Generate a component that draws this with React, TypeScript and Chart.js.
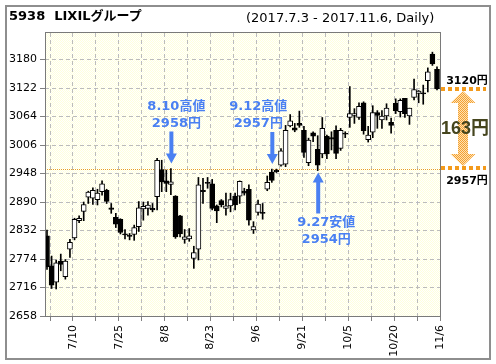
import React, { useEffect, useRef } from 'react';
import { Chart, registerables } from 'chart.js';

Chart.register(...registerables);

const FONT = "'DejaVu Sans', 'Noto Sans CJK JP', sans-serif";
const BIG_FONT = "'Liberation Sans', 'Noto Sans CJK JP', sans-serif";

// trading days (x categories)
const dates = [
  '7/3', '7/4', '7/5', '7/6', '7/7', '7/10', '7/11', '7/12', '7/13', '7/14',
  '7/18', '7/19', '7/20', '7/21', '7/24', '7/25', '7/26', '7/27', '7/28', '7/31',
  '8/1', '8/2', '8/3', '8/4', '8/7', '8/8', '8/9', '8/10', '8/14', '8/15',
  '8/16', '8/17', '8/18', '8/21', '8/22', '8/23', '8/24', '8/25', '8/28', '8/29',
  '8/30', '8/31', '9/1', '9/4', '9/5', '9/6', '9/7', '9/8', '9/11', '9/12',
  '9/13', '9/14', '9/15', '9/19', '9/20', '9/21', '9/22', '9/25', '9/26', '9/27',
  '9/28', '9/29', '10/2', '10/3', '10/4', '10/5', '10/6', '10/10', '10/11', '10/12',
  '10/13', '10/16', '10/17', '10/18', '10/19', '10/20', '10/23', '10/24', '10/25', '10/26',
  '10/27', '10/30', '10/31', '11/1', '11/2', '11/6',
];

const opens = [
  2821, 2760, 2727, 2770, 2738, 2794, 2817, 2852, 2871, 2900,
  2898, 2895, 2911, 2914, 2878, 2859, 2855, 2825, 2822, 2824,
  2840, 2876, 2877, 2877, 2901, 2956, 2933, 2926, 2902, 2862,
  2814, 2815, 2775, 2794, 2914, 2930, 2927, 2882, 2893, 2877,
  2882, 2902, 2902, 2912, 2916, 2833, 2869, 2869, 2916, 2951,
  2955, 2965, 2967, 3045, 3041, 3050, 3036, 2970, 3031, 2997,
  2988, 3024, 3021, 3036, 2999, 3030, 3062, 3066, 3062, 3092,
  3017, 3032, 3072, 3057, 3065, 3052, 3091, 3074, 3101, 3065,
  3103, 3111, 3112, 3137, 3191, 3160,
];

const highs = [
  2833, 2780, 2772, 2784, 2773, 2814, 2857, 2862, 2890, 2912,
  2919, 2916, 2933, 2916, 2887, 2867, 2856, 2834, 2826, 2843,
  2891, 2890, 2891, 2887, 2979, 2975, 2955, 2958, 2903, 2863,
  2834, 2836, 2800, 2940, 2938, 2940, 2936, 2884, 2895, 2908,
  2908, 2908, 2933, 2918, 2925, 2850, 2894, 2887, 2943, 2957,
  2957, 2999, 3046, 3068, 3050, 3075, 3044, 3020, 3033, 3025,
  3062, 3026, 3033, 3045, 3040, 3033, 3125, 3080, 3092, 3094,
  3044, 3086, 3076, 3076, 3090, 3061, 3100, 3100, 3101, 3081,
  3140, 3117, 3128, 3163, 3195, 3165,
];

const lows = [
  2753, 2714, 2713, 2750, 2733, 2777, 2813, 2848, 2852, 2887,
  2885, 2884, 2904, 2887, 2867, 2838, 2825, 2815, 2813, 2812,
  2830, 2853, 2863, 2870, 2874, 2911, 2911, 2905, 2816, 2819,
  2806, 2810, 2755, 2772, 2887, 2918, 2874, 2848, 2880, 2863,
  2870, 2874, 2887, 2904, 2843, 2826, 2863, 2855, 2913, 2930,
  2950, 2963, 2962, 3043, 3033, 3042, 2981, 2964, 3013, 2954,
  2980, 2978, 2996, 2978, 2995, 3021, 3042, 3050, 3058, 3028,
  3012, 3021, 3040, 3040, 3057, 3030, 3070, 3063, 3062, 3048,
  3098, 3092, 3089, 3114, 3168, 3118,
];

const closes = [
  2758, 2721, 2766, 2763, 2770, 2808, 2855, 2857, 2885, 2910,
  2914, 2908, 2927, 2891, 2875, 2845, 2828, 2823, 2820, 2838,
  2878, 2881, 2884, 2874, 2975, 2931, 2928, 2931, 2819, 2825,
  2819, 2821, 2787, 2925, 2911, 2928, 2877, 2872, 2884, 2882,
  2895, 2884, 2932, 2908, 2853, 2840, 2886, 2867, 2930, 2934,
  2952, 2994, 3036, 3055, 3036, 3046, 2991, 3016, 3024, 2965,
  3040, 2988, 3018, 2989, 3036, 3028, 3070, 3070, 3085, 3035,
  3026, 3072, 3066, 3065, 3081, 3046, 3076, 3097, 3070, 3081,
  3119, 3116, 3110, 3155, 3171, 3120,
];

const yTicks = [2658, 2716, 2774, 2832, 2890, 2948, 3006, 3064, 3122, 3180];
const yMin = 2658;
const yMax = 3234;

// vertical grid every 5 trading days, labels every 10
const gridIndexes = [0, 5, 10, 15, 20, 25, 30, 35, 40, 45, 50, 55, 60, 65, 70, 75, 80, 85];
const labelledIndexes = [5, 15, 25, 35, 45, 55, 65, 75, 85];
const gridShift = 0.654;
const xMin = -0.436;
const xMax = 85.654;

// annotations
const pointNotes = [
  { title: '8.10高値', price: '2958円', index: 27, value: 2958, dir: 'down', dx: 5 },
  { title: '9.12高値', price: '2957円', index: 49, value: 2957, dir: 'down', dx: -14 },
  { title: '9.27安値', price: '2954円', index: 59, value: 2954, dir: 'up', dx: 8 },
];
const refLevel = 2957;
const rangeTop = 3120;
const rangeBottom = 2957;
const rangeTopLabel = '3120円';
const rangeBottomLabel = '2957円';
const rangeDiffLabel = '163円';

const BLUE = '#4a80f2';
const ORANGE = '#f39a1c';

function arrow(ctx: CanvasRenderingContext2D, x: number, yTail: number, yTip: number, shaftW: number, headW: number, headL: number) {
  const dir = yTip > yTail ? 1 : -1;
  const yBase = yTip - dir * headL;
  ctx.beginPath();
  ctx.moveTo(x - shaftW / 2, yTail);
  ctx.lineTo(x + shaftW / 2, yTail);
  ctx.lineTo(x + shaftW / 2, yBase);
  ctx.lineTo(x + headW / 2, yBase);
  ctx.lineTo(x, yTip);
  ctx.lineTo(x - headW / 2, yBase);
  ctx.lineTo(x - shaftW / 2, yBase);
  ctx.closePath();
  ctx.fill();
}

function checker(ctx: CanvasRenderingContext2D, a: string, b: string) {
  const c = document.createElement('canvas');
  c.width = 2;
  c.height = 2;
  const g = c.getContext('2d')!;
  g.fillStyle = b;
  g.fillRect(0, 0, 2, 2);
  g.fillStyle = a;
  g.fillRect(0, 0, 1, 1);
  g.fillRect(1, 1, 1, 1);
  return ctx.createPattern(c, 'repeat')!;
}

const decorPlugin = {
  id: 'decor',
  beforeDraw(chart: any) {
    const { ctx, chartArea: a } = chart;
    ctx.save();
    ctx.fillStyle = checker(ctx, '#ffffdc', '#ffffff');
    ctx.fillRect(a.left, a.top, a.right - a.left, a.bottom - a.top);
    ctx.restore();
  },
  beforeDatasetsDraw(chart: any) {
    const { ctx, chartArea: a, scales } = chart;
    const y = Math.round(scales.y.getPixelForValue(refLevel)) + 0.5;
    ctx.save();
    ctx.strokeStyle = '#e8a020';
    ctx.lineWidth = 1;
    ctx.setLineDash([1, 1]);
    ctx.beginPath();
    ctx.moveTo(a.left, y);
    ctx.lineTo(a.right, y);
    ctx.stroke();
    ctx.restore();
  },
  afterDraw(chart: any) {
    const { ctx, chartArea: a, scales } = chart;
    const xs = scales.x;
    const ys = scales.y;
    ctx.save();
    // plot frame
    ctx.strokeStyle = '#7a7a7a';
    ctx.lineWidth = 1;
    ctx.setLineDash([]);
    ctx.strokeRect(a.left + 0.5, a.top - 0.5, a.right - a.left, a.bottom - a.top + 1);

    // blue notes
    ctx.fillStyle = BLUE;
    ctx.textAlign = 'center';
    ctx.textBaseline = 'middle';
    ctx.font = `bold 13px ${FONT}`;
    for (const n of pointNotes) {
      const x = xs.getPixelForValue(n.index) + 0.5;
      const yv = ys.getPixelForValue(n.value);
      if (n.dir === 'down') {
        const tip = yv - 5;
        arrow(ctx, x, tip - 32, tip, 4, 11, 10);
        ctx.fillText(n.title, x + n.dx, tip - 57);
        ctx.fillText(n.price, x + n.dx, tip - 40);
      } else {
        const tip = yv + 2;
        arrow(ctx, x, tip + 41, tip, 4, 11, 10);
        ctx.fillText(n.title, x + n.dx, tip + 50);
        ctx.fillText(n.price, x + n.dx, tip + 67);
      }
    }

    // right side range
    const yTop = ys.getPixelForValue(rangeTop);
    const yBot = ys.getPixelForValue(rangeBottom);
    ctx.strokeStyle = ORANGE;
    ctx.lineWidth = 4;
    ctx.setLineDash([4, 3]);
    ctx.beginPath();
    ctx.moveTo(a.right + 1, Math.round(yTop));
    ctx.lineTo(a.right + 46, Math.round(yTop));
    ctx.moveTo(a.right + 1, Math.round(yBot) - 1);
    ctx.lineTo(a.right + 46, Math.round(yBot) - 1);
    ctx.stroke();
    ctx.setLineDash([]);

    const cx = a.right + 23;
    const t1 = yTop + 2;
    const t2 = yBot - 3;
    ctx.fillStyle = checker(ctx, '#f5a030', '#fde2b4');
    ctx.beginPath();
    ctx.moveTo(cx, t1);
    ctx.lineTo(cx + 12.5, t1 + 12);
    ctx.lineTo(cx + 5, t1 + 12);
    ctx.lineTo(cx + 5, t2 - 12);
    ctx.lineTo(cx + 12.5, t2 - 12);
    ctx.lineTo(cx, t2);
    ctx.lineTo(cx - 12.5, t2 - 12);
    ctx.lineTo(cx - 5, t2 - 12);
    ctx.lineTo(cx - 5, t1 + 12);
    ctx.lineTo(cx - 12.5, t1 + 12);
    ctx.closePath();
    ctx.fill();

    ctx.fillStyle = '#000';
    ctx.textBaseline = 'alphabetic';
    ctx.font = `bold 11px ${FONT}`;
    ctx.fillText(rangeTopLabel, a.right + 27, yTop - 5.5);
    ctx.fillText(rangeBottomLabel, a.right + 27, yBot + 15);

    ctx.fillStyle = '#45451e';
    ctx.textBaseline = 'middle';
    ctx.font = `bold 18px ${BIG_FONT}`;
    ctx.fillText(rangeDiffLabel, a.right + 25, (yTop + yBot) / 2);
    ctx.restore();
  },
};

export default function App() {
  const ref = useRef<HTMLCanvasElement>(null);

  useEffect(() => {
    const canvas = ref.current;
    if (!canvas) return;
    const bodies = dates.map((_, i) => ({ x: i, y: [Math.min(opens[i], closes[i]), Math.max(opens[i], closes[i])] }));
    const wicks = dates.map((_, i) => ({ x: i, y: [lows[i], highs[i]] }));
    const bodyColors = dates.map((_, i) => (closes[i] >= opens[i] ? '#ffffff' : '#000000'));

    const chart = new Chart(canvas, {
      type: 'bar',
      data: {
        datasets: [
          {
            label: 'body',
            data: bodies as any,
            backgroundColor: bodyColors,
            borderColor: '#000000',
            borderWidth: 1,
            borderSkipped: false,
            barThickness: 5,
            grouped: false,
            order: 0,
          } as any,
          {
            label: 'wick',
            data: wicks as any,
            backgroundColor: '#000000',
            borderWidth: 0,
            barThickness: 1,
            grouped: false,
            order: 1,
          } as any,
        ],
      },
      options: {
        responsive: false,
        animation: false,
        devicePixelRatio: 1,
        layout: { padding: { left: 0, top: 33, right: 56, bottom: 0 } },
        plugins: { legend: { display: false }, tooltip: { enabled: false }, title: { display: false } },
        scales: {
          x: {
            type: 'linear',
            min: xMin,
            max: xMax,
            offset: false,
            afterBuildTicks: (s: any) => {
              s.ticks = gridIndexes.map((v) => ({ value: v + gridShift }));
            },
            afterFit: (s: any) => {
              s.height = 48;
            },
            grid: { offset: false, color: '#bcbcbc', lineWidth: 1, drawTicks: true, tickLength: 5, tickColor: '#808080' },
            border: { display: false, dash: [4, 3] },
            ticks: {
              autoSkip: false,
              maxRotation: 90,
              minRotation: 90,
              padding: 4,
              color: '#000',
              font: { family: FONT, size: 11 },
              callback: (v: any) => {
                const i = Math.round(Number(v) - gridShift);
                return labelledIndexes.includes(i) ? dates[i] : '';
              },
            },
          },
          y: {
            type: 'linear',
            min: yMin,
            max: yMax,
            afterBuildTicks: (s: any) => {
              s.ticks = yTicks.map((v) => ({ value: v }));
            },
            afterFit: (s: any) => {
              s.width = 45;
            },
            grid: { color: '#bcbcbc', lineWidth: 1, drawTicks: true, tickLength: 5, tickColor: '#808080' },
            border: { display: false, dash: [4, 3] },
            ticks: {
              padding: 3,
              color: '#000',
              font: { family: FONT, size: 11 },
              callback: (v: any) => String(v),
            },
          },
        },
      } as any,
      plugins: [decorPlugin],
    });
    return () => chart.destroy();
  }, []);

  return (
    <div style={{ position: 'absolute', left: 0, top: 0, width: 496, height: 364, background: '#fff', overflow: 'hidden' }}>
      <div
        style={{
          position: 'absolute',
          left: 5,
          top: 5,
          width: 486,
          height: 355,
          boxSizing: 'border-box',
          border: '2px solid #8e8e8e',
        }}
      />
      <canvas ref={ref} width={496} height={364} style={{ position: 'absolute', left: 0, top: 0 }} />
      <div style={{ position: 'absolute', left: 9, top: 8, font: `bold 13px/15px ${FONT}`, whiteSpace: 'pre', color: '#000' }}>
        {'5938  LIXILグループ'}
      </div>
      <div style={{ position: 'absolute', left: 246, top: 10, font: `13px/15px ${FONT}`, whiteSpace: 'pre', color: '#000' }}>
        {'(2017.7.3 - 2017.11.6, Daily)'}
      </div>
    </div>
  );
}
